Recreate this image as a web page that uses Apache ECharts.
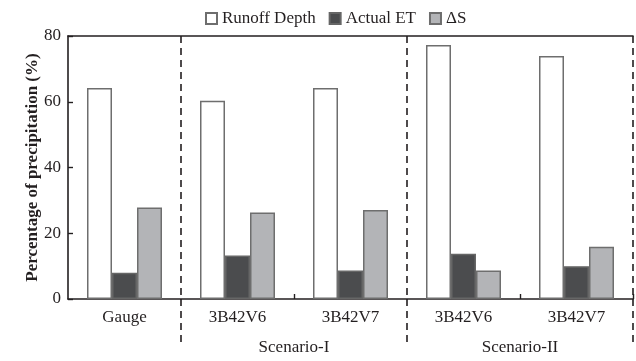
<!DOCTYPE html>
<html>
<head>
<meta charset="utf-8" />
<script src="https://cdn.jsdelivr.net/npm/echarts@6/dist/echarts.min.js"></script>
<style>
  html, body { margin: 0; padding: 0; background: #fff; }
  #chart { width: 636px; height: 361px; }
</style>
</head>
<body>
<div id="chart"></div>
<script>
// 数据
const categories = ["Gauge", "3B42V6", "3B42V7", "3B42V6", "3B42V7"];
const runoffDepth = [64.2, 60.3, 64.2, 77.3, 73.9];
const actualET = [8.0, 13.2, 8.7, 13.8, 10.0];
const deltaS = [27.8, 26.3, 27.1, 8.7, 15.9];
// scenario labels sit on boundaries 0..5 of the category axis
const scenarioLabels = ["", "", "Scenario-I", "", "Scenario-II", ""];
const yTicks = [0, 20, 40, 60, 80];

const font = "Liberation Serif";
const textColor = "#231f20";
const dashLine = { color: "#231f20", width: 1.6, type: [7, 5] };

const myChart = echarts.init(document.getElementById("chart"));

const option = {
  animation: false,
  textStyle: { fontFamily: font, color: textColor },
  legend: {
    left: 200,
    top: 5,
    itemWidth: 11,
    itemHeight: 11,
    itemGap: 13,
    icon: "rect",
    textStyle: { fontFamily: font, fontSize: 17, color: textColor },
  },
  grid: {
    left: 68,
    right: 3,
    top: 36,
    bottom: 62,
    containLabel: false,
  },
  xAxis: [
    {
      // 主分类轴
      type: "category",
      data: categories,
      position: "bottom",
      axisLine: { show: true, lineStyle: { color: textColor, width: 1.6 } },
      axisTick: {
        show: true,
        inside: true,
        length: 5,
        interval: (i) => i === 2 || i === 4,
        lineStyle: { color: textColor, width: 1.4 },
      },
      axisLabel: {
        interval: 0,
        margin: 10,
        fontFamily: font,
        fontSize: 17,
        color: textColor,
      },
      splitLine: { show: false },
    },
    {
      // 虚线分隔
      type: "category",
      data: categories,
      position: "bottom",
      axisLine: { show: false },
      axisLabel: { show: false },
      axisTick: {
        show: true,
        inside: false,
        length: 44,
        interval: (i) => i === 1 || i === 3,
        lineStyle: dashLine,
      },
      splitLine: {
        show: true,
        interval: (i) => i === 1 || i === 3,
        lineStyle: dashLine,
      },
    },
    {
      // Scenario 标签
      type: "value",
      min: 0,
      max: scenarioLabels.length - 1,
      interval: 1,
      position: "bottom",
      axisLine: { show: false },
      axisTick: { show: false },
      splitLine: { show: false },
      axisLabel: {
        show: true,
        margin: 40,
        fontFamily: font,
        fontSize: 17,
        color: textColor,
        formatter: (v) => scenarioLabels[v] || "",
      },
    },
    {
      // 顶部边框
      type: "category",
      data: categories,
      position: "top",
      axisLine: { show: true, lineStyle: { color: textColor, width: 1.6 } },
      axisTick: { show: false },
      axisLabel: { show: false },
      splitLine: { show: false },
    },
  ],
  yAxis: {
    type: "value",
    min: yTicks[0],
    max: yTicks[yTicks.length - 1],
    interval: yTicks[1] - yTicks[0],
    name: "Percentage of precipitation (%)",
    nameLocation: "middle",
    nameGap: 27,
    nameMoveOverlap: false,
    nameTextStyle: {
      fontFamily: font,
      fontSize: 17,
      fontWeight: "bold",
      color: textColor,
    },
    axisLine: { show: true, lineStyle: { color: textColor, width: 1.6 } },
    axisTick: { show: true, inside: true, length: 5, lineStyle: { color: textColor, width: 1.4 } },
    axisLabel: { margin: 7, fontFamily: font, fontSize: 17, color: textColor },
    splitLine: { show: false },
  },
  series: [
    {
      name: "Runoff Depth",
      type: "bar",
      xAxisIndex: 0,
      data: runoffDepth,
      barWidth: 25,
      barGap: "0%",
      itemStyle: { color: "#ffffff", borderColor: "#6e6e6e", borderWidth: 1.5 },
    },
    {
      name: "Actual ET",
      type: "bar",
      xAxisIndex: 0,
      data: actualET,
      barWidth: 25,
      barGap: "0%",
      itemStyle: { color: "#4b4c4e", borderColor: "#666666", borderWidth: 1.5 },
    },
    {
      name: "ΔS",
      type: "bar",
      xAxisIndex: 0,
      data: deltaS,
      barWidth: 25,
      barGap: "0%",
      itemStyle: { color: "#b3b4b7", borderColor: "#6e6e6e", borderWidth: 1.5 },
    },
  ],
};

myChart.setOption(option);
window.addEventListener("resize", () => {
  myChart.resize();
});
</script>
</body>
</html>
